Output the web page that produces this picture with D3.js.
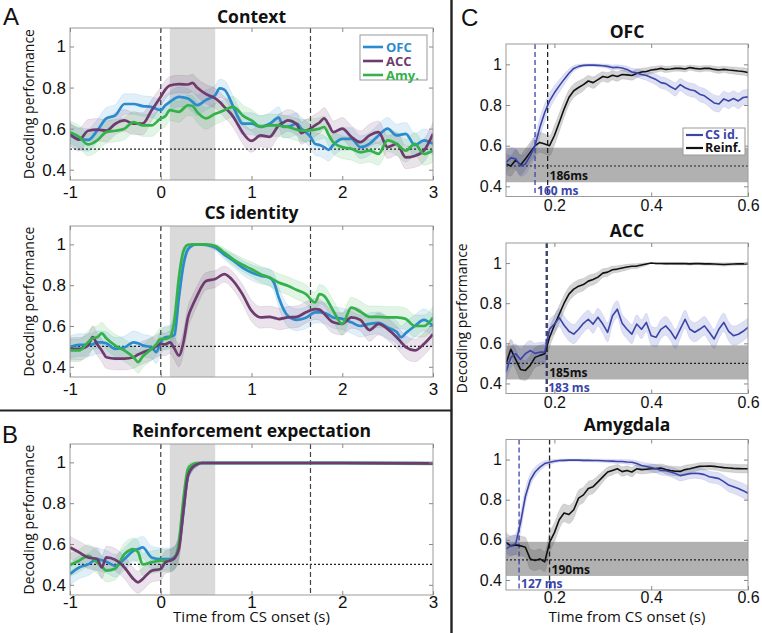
<!DOCTYPE html>
<html><head><meta charset="utf-8">
<script src="https://cdn.jsdelivr.net/npm/d3@7"></script>
<style>body{margin:0;background:#fff}</style></head>
<body>
<svg id="c" width="762" height="633"></svg>
<script>
// ---------- Panel A: Context ----------
const ctxTime = [-1,-0.9,-0.8,-0.7,-0.6,-0.5,-0.4,-0.3,-0.2,-0.1,0,0.05,0.1,0.2,0.3,0.35,0.4,0.5,0.6,0.65,0.7,0.8,0.85,0.9,1.0,1.1,1.2,1.3,1.35,1.4,1.5,1.55,1.6,1.65,1.7,1.75,1.8,1.85,1.9,2.0,2.1,2.2,2.3,2.4,2.5,2.6,2.7,2.8,2.9,3.0];
const ctxOFC = [0.567,0.55,0.545,0.59,0.65,0.665,0.72,0.72,0.71,0.705,0.69,0.714,0.73,0.755,0.747,0.73,0.714,0.74,0.763,0.796,0.79,0.706,0.657,0.624,0.624,0.608,0.624,0.654,0.61,0.61,0.624,0.6,0.583,0.56,0.526,0.52,0.51,0.497,0.52,0.55,0.55,0.51,0.526,0.567,0.6,0.567,0.575,0.52,0.543,0.526];
const ctxACC = [0.575,0.546,0.59,0.595,0.59,0.624,0.64,0.624,0.624,0.69,0.755,0.79,0.81,0.817,0.815,0.823,0.8,0.768,0.747,0.73,0.706,0.657,0.62,0.583,0.54,0.567,0.56,0.616,0.63,0.64,0.62,0.578,0.59,0.6,0.616,0.63,0.65,0.62,0.583,0.6,0.56,0.534,0.567,0.583,0.51,0.526,0.46,0.467,0.493,0.575];
const ctxAmy = [0.583,0.56,0.523,0.543,0.583,0.59,0.6,0.632,0.616,0.616,0.65,0.66,0.69,0.682,0.714,0.71,0.682,0.65,0.673,0.68,0.69,0.706,0.69,0.665,0.64,0.61,0.616,0.616,0.61,0.608,0.595,0.59,0.59,0.592,0.595,0.6,0.608,0.57,0.534,0.51,0.502,0.485,0.493,0.477,0.543,0.526,0.493,0.526,0.477,0.493];

// ---------- Panel A: CS identity ----------
const csTime = [-1,-0.9,-0.8,-0.75,-0.7,-0.65,-0.6,-0.5,-0.4,-0.3,-0.25,-0.2,-0.1,-0.05,0,0.05,0.1,0.15,0.2,0.25,0.3,0.35,0.4,0.5,0.6,0.7,0.8,0.9,1.0,1.1,1.2,1.25,1.3,1.4,1.5,1.6,1.7,1.75,1.8,1.9,2.0,2.1,2.2,2.3,2.4,2.5,2.6,2.65,2.7,2.8,2.9,3.0];
const csOFC = [0.496,0.507,0.507,0.51,0.52,0.52,0.515,0.488,0.495,0.52,0.515,0.505,0.495,0.472,0.52,0.545,0.548,0.555,0.74,0.9,0.976,0.995,1.0,0.997,0.984,0.95,0.92,0.886,0.862,0.846,0.837,0.81,0.74,0.65,0.63,0.64,0.667,0.667,0.665,0.642,0.635,0.618,0.6,0.61,0.615,0.593,0.57,0.545,0.565,0.6,0.63,0.6];
const csACC = [0.488,0.488,0.505,0.545,0.51,0.48,0.447,0.44,0.44,0.447,0.46,0.47,0.488,0.5,0.512,0.51,0.52,0.49,0.455,0.52,0.642,0.7,0.748,0.82,0.83,0.854,0.82,0.756,0.675,0.642,0.645,0.64,0.634,0.642,0.645,0.667,0.683,0.68,0.66,0.618,0.61,0.642,0.63,0.58,0.61,0.585,0.545,0.52,0.496,0.48,0.512,0.56];
const csAmy = [0.48,0.48,0.52,0.54,0.545,0.564,0.54,0.504,0.48,0.447,0.423,0.45,0.488,0.51,0.537,0.537,0.545,0.626,0.837,0.967,0.998,1.0,1.0,1.0,0.992,0.96,0.927,0.9,0.878,0.854,0.837,0.825,0.813,0.797,0.776,0.756,0.715,0.756,0.748,0.675,0.61,0.69,0.67,0.645,0.645,0.642,0.642,0.64,0.634,0.6,0.6,0.642];

// ---------- Panel B: Reinforcement expectation ----------
const reTime = [-1,-0.9,-0.8,-0.7,-0.65,-0.6,-0.5,-0.4,-0.3,-0.25,-0.2,-0.1,0,0.05,0.1,0.15,0.2,0.25,0.3,0.35,0.4,0.45,0.5,1,2,3];
const reOFC = [0.453,0.485,0.5,0.526,0.52,0.513,0.493,0.526,0.567,0.575,0.583,0.534,0.526,0.526,0.526,0.535,0.59,0.76,0.935,0.975,0.99,0.997,0.997,0.997,0.997,0.995];
const reACC = [0.583,0.559,0.534,0.526,0.485,0.534,0.522,0.485,0.428,0.412,0.428,0.469,0.477,0.51,0.518,0.53,0.575,0.763,0.935,0.975,0.99,0.997,0.997,0.997,0.997,0.995];
const reAmy = [0.497,0.518,0.542,0.51,0.49,0.469,0.48,0.55,0.575,0.56,0.5,0.51,0.518,0.518,0.518,0.53,0.608,0.82,0.967,0.99,0.997,0.997,0.997,0.997,0.997,0.995];

// ---------- Panel C: CS identity vs Reinforcement, per area ----------
const cTime = [0.10,0.11,0.12,0.13,0.14,0.15,0.16,0.17,0.18,0.19,0.20,0.21,0.22,0.23,0.24,0.25,0.26,0.27,0.28,0.29,0.30,0.31,0.32,0.33,0.34,0.35,0.36,0.37,0.38,0.39,0.40,0.41,0.42,0.43,0.44,0.45,0.46,0.47,0.48,0.49,0.50,0.51,0.52,0.53,0.54,0.55,0.56,0.57,0.58,0.59,0.60];
const ofcCS = [0.518,0.54,0.535,0.50,0.51,0.55,0.60,0.69,0.763,0.82,0.86,0.894,0.926,0.956,0.98,0.99,0.995,0.996,0.996,0.995,0.993,0.99,0.984,0.986,0.982,0.975,0.962,0.958,0.95,0.945,0.935,0.925,0.91,0.905,0.89,0.877,0.9,0.885,0.875,0.87,0.853,0.845,0.828,0.81,0.805,0.83,0.82,0.832,0.82,0.837,0.84];
const ofcRe = [0.51,0.50,0.53,0.505,0.534,0.567,0.60,0.616,0.608,0.60,0.65,0.714,0.78,0.837,0.87,0.886,0.90,0.918,0.91,0.925,0.94,0.935,0.946,0.94,0.95,0.948,0.945,0.955,0.962,0.965,0.972,0.975,0.98,0.975,0.977,0.98,0.98,0.977,0.984,0.98,0.977,0.98,0.98,0.975,0.972,0.975,0.972,0.97,0.967,0.965,0.96];
const accCS = [0.457,0.53,0.548,0.52,0.548,0.564,0.55,0.556,0.556,0.67,0.696,0.728,0.69,0.66,0.646,0.67,0.7,0.72,0.696,0.73,0.696,0.655,0.737,0.77,0.7,0.67,0.646,0.696,0.67,0.704,0.638,0.63,0.67,0.687,0.66,0.622,0.671,0.72,0.67,0.655,0.67,0.687,0.655,0.622,0.671,0.704,0.66,0.638,0.645,0.66,0.68];
const accRe = [0.498,0.57,0.52,0.47,0.465,0.49,0.53,0.54,0.548,0.63,0.69,0.745,0.8,0.845,0.87,0.885,0.893,0.91,0.918,0.93,0.95,0.955,0.967,0.97,0.975,0.98,0.984,0.985,0.99,0.995,1.0,0.998,0.998,0.997,0.998,0.997,0.997,0.997,0.996,0.997,0.997,0.996,0.996,0.995,0.994,0.993,0.994,0.995,0.996,0.996,0.997];
const amyCS = [0.555,0.57,0.58,0.685,0.816,0.897,0.938,0.962,0.98,0.987,0.992,0.995,0.996,0.997,0.997,0.997,0.996,0.996,0.995,0.995,0.994,0.993,0.992,0.99,0.99,0.988,0.987,0.98,0.97,0.965,0.96,0.955,0.946,0.944,0.938,0.93,0.92,0.925,0.93,0.932,0.93,0.925,0.914,0.91,0.905,0.89,0.873,0.865,0.856,0.845,0.832];
const amyRe = [0.587,0.57,0.575,0.57,0.563,0.505,0.497,0.505,0.49,0.587,0.636,0.7,0.734,0.726,0.75,0.808,0.824,0.856,0.865,0.889,0.914,0.938,0.946,0.954,0.94,0.946,0.938,0.954,0.95,0.952,0.954,0.955,0.958,0.95,0.945,0.942,0.941,0.95,0.954,0.96,0.966,0.967,0.968,0.966,0.963,0.96,0.958,0.956,0.955,0.954,0.954];

const latencies = {OFC:[0.160,0.186], ACC:[0.183,0.185], Amygdala:[0.127,0.190]};
const latencyLabels = {OFC:["160 ms","186ms"], ACC:["183 ms","185ms"], Amygdala:["127 ms","190ms"]};

const areaNames = ["OFC","ACC","Amy."];
const cLegend = ["CS id.","Reinf."];
const abXTicks = [-1,0,1,2,3];
const cXTicks = [0.2,0.4,0.6];
const yTicks = [0.4,0.6,0.8,1];
const stimWindow = [0.1,0.6];
const eventLines = [0,1.65];
const chanceBand = [0.42,0.59];
const bandScale = 0.11;

const colOFC = "#2a8bcf", colACC = "#6e3b6e", colAmy = "#33b24a";
const colCS = "#3b45a8", colRe = "#111111";

const svg = d3.select("#c");
const tickFont = "'Liberation Sans', Arial, sans-serif";
const myriad = "'Open Sans', 'DejaVu Sans', sans-serif";
let clipId = 0;

function panel(cfg){
  const x = d3.scaleLinear().domain(cfg.xDom).range([cfg.left, cfg.right]);
  const y = d3.scaleLinear().domain(cfg.yDom).range([cfg.bottom, cfg.top]);
  const g = svg.append("g");
  const id = "clip" + (clipId++);
  g.append("clipPath").attr("id", id).append("rect")
    .attr("x", cfg.left).attr("y", cfg.top).attr("width", cfg.right-cfg.left).attr("height", cfg.bottom-cfg.top);
  const inner = g.append("g").attr("clip-path", `url(#${id})`);
  if (cfg.shade) inner.append("rect").attr("x", x(cfg.shade[0])).attr("width", x(cfg.shade[1])-x(cfg.shade[0]))
      .attr("y", cfg.top).attr("height", cfg.bottom-cfg.top).attr("fill", "#dadada");
  if (cfg.chance) inner.append("rect").attr("x", cfg.left).attr("width", cfg.right-cfg.left)
      .attr("y", y(cfg.chance[1])).attr("height", y(cfg.chance[0])-y(cfg.chance[1])).attr("fill", "#b1b1b1");
  cfg.series.forEach(s => {
    const pts = s.t.map((t,i)=>[t, s.v[i]]);
    const hw = v => cfg.k*Math.sqrt(Math.max(0, Math.min(1,v))*(1-Math.min(1,v)));
    const area = d3.area().x(d=>x(d[0])).y0(d=>y(d[1]-hw(d[1]))).y1(d=>y(d[1]+hw(d[1]))).curve(d3.curveMonotoneX);
    inner.append("path").datum(pts).attr("d", area).attr("fill", s.bandColor || s.color)
      .attr("fill-opacity", s.bandOpacity || 0.14).attr("stroke", s.bandColor || s.color).attr("stroke-opacity", 0.12);
  });
  inner.append("line").attr("x1", cfg.left).attr("x2", cfg.right).attr("y1", y(0.5)).attr("y2", y(0.5))
    .attr("stroke", "#222").attr("stroke-width", 1.2).attr("stroke-dasharray", "2,2");
  (cfg.vlines||[]).forEach(v => {
    inner.append("line").attr("x1", x(v.x)).attr("x2", x(v.x)).attr("y1", cfg.top).attr("y2", cfg.bottom)
      .attr("stroke", v.color).attr("stroke-width", v.w || 1.2).attr("stroke-dasharray", "5,3");
  });
  cfg.series.forEach(s => {
    const pts = s.t.map((t,i)=>[t, s.v[i]]);
    inner.append("path").datum(pts).attr("d", d3.line().x(d=>x(d[0])).y(d=>y(d[1])).curve(s.curve || d3.curveMonotoneX))
      .attr("fill", "none").attr("stroke", s.color).attr("stroke-width", s.w).attr("stroke-linejoin", "round");
  });
  g.append("rect").attr("x", cfg.left).attr("y", cfg.top).attr("width", cfg.right-cfg.left).attr("height", cfg.bottom-cfg.top)
    .attr("fill", "none").attr("stroke", "#9a9a9a").attr("stroke-width", 1);
  const fmt = d => String(d);
  const ax = [
    [d3.axisBottom(x).tickValues(cfg.xTicks).tickFormat(fmt).tickPadding(cfg.xPad), `translate(0,${cfg.bottom})`],
    [d3.axisTop(x).tickValues(cfg.xTicks).tickFormat(""), `translate(0,${cfg.top})`],
    [d3.axisLeft(y).tickValues(yTicks).tickFormat(fmt).tickPadding(4), `translate(${cfg.left},0)`],
    [d3.axisRight(y).tickValues(yTicks).tickFormat(""), `translate(${cfg.right},0)`]
  ];
  ax.forEach(([a,tr]) => {
    const ag = g.append("g").attr("transform", tr).call(a.tickSizeInner(-4).tickSizeOuter(0));
    ag.select(".domain").remove();
    ag.selectAll("line").attr("stroke", "#888");
    ag.selectAll("text").attr("font-family", tickFont).attr("font-size", cfg.tickSize).attr("fill", "#111");
  });
  if (cfg.title) g.append("text").attr("x", (cfg.left+cfg.right)/2).attr("y", cfg.titleY).attr("text-anchor","middle")
    .attr("font-family", myriad).attr("font-weight", 700).attr("font-size", 17.5).attr("fill","#111").text(cfg.title);
  if (cfg.ylabel) g.append("text").attr("transform", `translate(${cfg.ylabelX},${(cfg.top+cfg.bottom)/2}) rotate(-90)`)
    .attr("text-anchor","middle").attr("font-family", myriad).attr("font-size", 14).attr("fill","#111").text("Decoding performance");
  if (cfg.xlabel) g.append("text").attr("x", (cfg.left+cfg.right)/2).attr("y", 622).attr("text-anchor","middle")
    .attr("font-family", myriad).attr("font-size", 15).attr("fill","#111").text("Time from CS onset (s)");
  return {x, y, g};
}

const abSeries = (t, a, b, c) => [
  {t, v:a, color:colOFC, w:2.7},
  {t, v:b, color:colACC, w:2.7},
  {t, v:c, color:colAmy, w:2.7}
];
const abV = eventLines.map(e => ({x:e, color:"#444"}));

panel({left:70, right:433, top:28, bottom:180, xDom:[-1,3], yDom:[0.35,1.09], xTicks:abXTicks, xPad:6, tickSize:17,
  shade:stimWindow, vlines:abV, k:bandScale, series:abSeries(ctxTime, ctxOFC, ctxACC, ctxAmy),
  title:"Context", titleY:23, ylabel:true, ylabelX:34});
panel({left:70, right:433, top:226, bottom:377, xDom:[-1,3], yDom:[0.35,1.09], xTicks:abXTicks, xPad:6, tickSize:17,
  shade:stimWindow, vlines:abV, k:bandScale, series:abSeries(csTime, csOFC, csACC, csAmy),
  title:"CS identity", titleY:219, ylabel:true, ylabelX:34});
const reSeries = abSeries(reTime, reOFC, reACC, reAmy);
panel({left:70, right:433, top:444, bottom:595, xDom:[-1,3], yDom:[0.35,1.09], xTicks:abXTicks, xPad:1, tickSize:17,
  shade:stimWindow, vlines:abV, k:bandScale, series:[reSeries[0], reSeries[2], reSeries[1]],
  title:"Reinforcement expectation", titleY:437, ylabel:true, ylabelX:34, xlabel:true});

// legend A
(function(){
  const lg = svg.append("g");
  lg.append("rect").attr("x",360).attr("y",35).attr("width",67).attr("height",45).attr("fill","#fff").attr("stroke","#999");
  [colOFC,colACC,colAmy].forEach((c,i)=>{
    const yy = 47 + i*14;
    lg.append("line").attr("x1",363).attr("x2",383).attr("y1",yy).attr("y2",yy).attr("stroke",c).attr("stroke-width",2.6);
    lg.append("text").attr("x",386).attr("y",yy+4.5).attr("font-family",myriad).attr("font-weight",700).attr("font-size",13)
      .attr("fill",c).text(areaNames[i]);
  });
})();

// Panel C
const cPanels = [
  {name:"OFC", top:44, bottom:196.5, cs:ofcCS, re:ofcRe, titleY:38, ylabel:false, xPad:3},
  {name:"ACC", top:243, bottom:393.5, cs:accCS, re:accRe, titleY:237, ylabel:true, xPad:3},
  {name:"Amygdala", top:439.5, bottom:590, cs:amyCS, re:amyRe, titleY:431, ylabel:false, xlabel:true, xPad:2}
];
cPanels.forEach(cp => {
  const lat = latencies[cp.name], lab = latencyLabels[cp.name];
  const p = panel({left:506, right:748, top:cp.top, bottom:cp.bottom, xDom:[0.1,0.6], yDom:[0.35,1.1], xTicks:cXTicks, xPad:cp.xPad, tickSize:16,
    chance:chanceBand, k:0.1,
    vlines:[{x:lat[0], color:colCS, w:1.3},{x:lat[1], color:"#222", w:1.3}],
    series:[
      {t:cTime, v:cp.re, color:colRe, w:1.6, bandColor:"#555", bandOpacity:0.25, curve:d3.curveLinear},
      {t:cTime, v:cp.cs, color:colCS, w:1.6, bandColor:"#5a64c8", bandOpacity:0.2, curve:d3.curveLinear}
    ],
    title:cp.name, titleY:cp.titleY, ylabel:cp.ylabel, ylabelX:467, xlabel:cp.xlabel});
  p.g.append("text").attr("x", p.x(lat[1])+2).attr("y", p.y(0.43)).attr("font-family",myriad).attr("font-weight",700)
    .attr("font-size",12).attr("fill","#111").text(lab[1]);
  p.g.append("text").attr("x", p.x(lat[0])+2).attr("y", cp.bottom-2).attr("font-family",myriad).attr("font-weight",700)
    .attr("font-size",12).attr("fill",colCS).text(lab[0]);
  if (cp.name === "OFC") {
    const lg = p.g.append("g");
    lg.append("rect").attr("x",683).attr("y",128).attr("width",62).attr("height",27).attr("fill","#fff").attr("stroke","#999");
    [colCS,colRe].forEach((c,i)=>{
      const yy = 135 + i*13;
      lg.append("line").attr("x1",686).attr("x2",703).attr("y1",yy).attr("y2",yy).attr("stroke",c).attr("stroke-width",2.2);
      lg.append("text").attr("x",705).attr("y",yy+4).attr("font-family",myriad).attr("font-weight",700).attr("font-size",12.5)
        .attr("fill",c).text(cLegend[i]);
    });
  }
});

// separators and panel letters
svg.append("line").attr("x1",0).attr("x2",451).attr("y1",410.5).attr("y2",410.5).attr("stroke","#222").attr("stroke-width",2.2);
svg.append("line").attr("x1",451.5).attr("x2",451.5).attr("y1",0).attr("y2",633).attr("stroke","#222").attr("stroke-width",2.4);
[["A",3,25],["B",2,443],["C",461,26]].forEach(([t,xx,yy]) =>
  svg.append("text").attr("x",xx).attr("y",yy).attr("font-family",tickFont).attr("font-size",24).attr("fill","#111").text(t));
</script>
</body></html>
